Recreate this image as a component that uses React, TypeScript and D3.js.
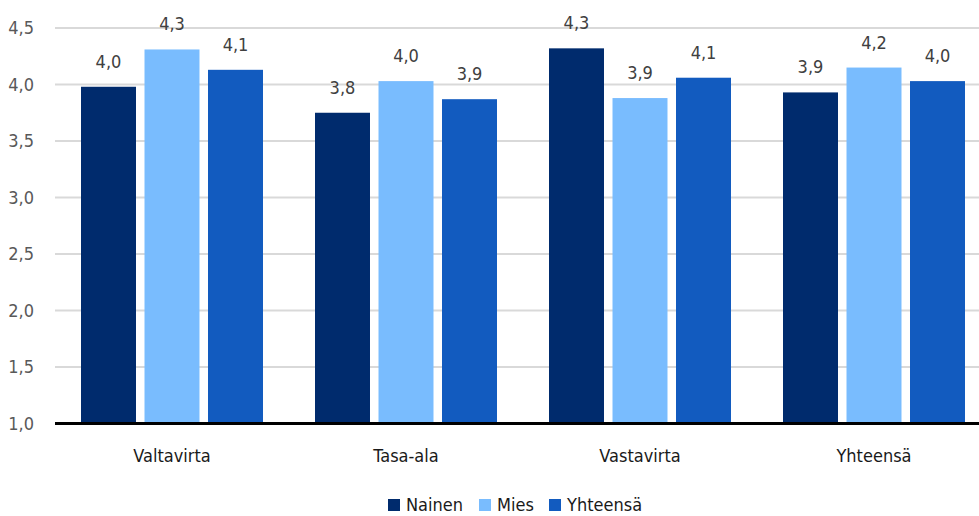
import React from "react";
import * as d3 from "d3";

const categories = ["Valtavirta", "Tasa-ala", "Vastavirta", "Yhteensä"];
const seriesNames = ["Nainen", "Mies", "Yhteensä"];
const nainen = [3.98, 3.75, 4.32, 3.93];
const mies = [4.31, 4.03, 3.88, 4.15];
const yhteensa = [4.13, 3.87, 4.06, 4.03];
const yTicks = [1.0, 1.5, 2.0, 2.5, 3.0, 3.5, 4.0, 4.5];
const colors = ["#002B6D", "#79BCFE", "#125BBF"];

const W = 979;
const H = 516;
const FONT = "'Liberation Sans Narrow', 'DejaVu Sans Condensed', 'Roboto Condensed', sans-serif";

export default function App() {
  const values = [nainen, mies, yhteensa];
  const x0 = d3.scaleBand<string>().domain(categories).range([55, 991]).paddingInner(52 / 234).paddingOuter(26 / 234);
  const x1 = d3.scaleBand<string>().domain(seriesNames).range([0, x0.bandwidth()]).paddingInner(0.134);
  const y = d3.scaleLinear().domain([1, 4.5]).range([423.5, 28]);
  const fmt = (v: number) => d3.format(".1f")(v).replace(".", ",");

  const legendItems = [
    { name: "Nainen", x: 388, color: colors[0] },
    { name: "Mies", x: 479, color: colors[1] },
    { name: "Yhteensä", x: 549, color: colors[2] },
  ];

  return (
    <svg width={W} height={H} style={{ position: "absolute", left: 0, top: 0, fontFamily: FONT }}>
      <rect width={W} height={H} fill="#fff" />
      {yTicks.slice(1).map((t) => (
        <line key={t} x1={55} x2={W} y1={y(t)} y2={y(t)} stroke="#d9d9d9" strokeWidth={2} />
      ))}
      {yTicks.map((t) => (
        <text key={"l" + t} x={34} y={y(t)} dy="0.35em" textAnchor="end" fontSize={18} fill="#595959">
          {fmt(t)}
        </text>
      ))}
      {categories.map((c, ci) => (
        <g key={c} transform={`translate(${x0(c)},0)`}>
          {seriesNames.map((s, si) => {
            const v = values[si][ci];
            const bx = x1(s)!;
            return (
              <g key={s}>
                <rect x={bx} y={y(v)} width={x1.bandwidth()} height={y(1) - y(v)} fill={colors[si]} />
                <text x={bx + x1.bandwidth() / 2} y={y(v) - 19} textAnchor="middle" fontSize={18} fill="#404040">
                  {fmt(v)}
                </text>
              </g>
            );
          })}
          <text x={x0.bandwidth() / 2} y={462} textAnchor="middle" fontSize={18} fill="#1a1a1a">
            {c}
          </text>
        </g>
      ))}
      <line x1={55} x2={W} y1={y(1)} y2={y(1)} stroke="#000" strokeWidth={3} />
      {legendItems.map((it) => (
        <g key={it.name}>
          <rect x={it.x} y={499} width={12} height={12} fill={it.color} />
          <text x={it.x + 18} y={511} fontSize={18} fill="#1a1a1a">
            {it.name}
          </text>
        </g>
      ))}
    </svg>
  );
}
